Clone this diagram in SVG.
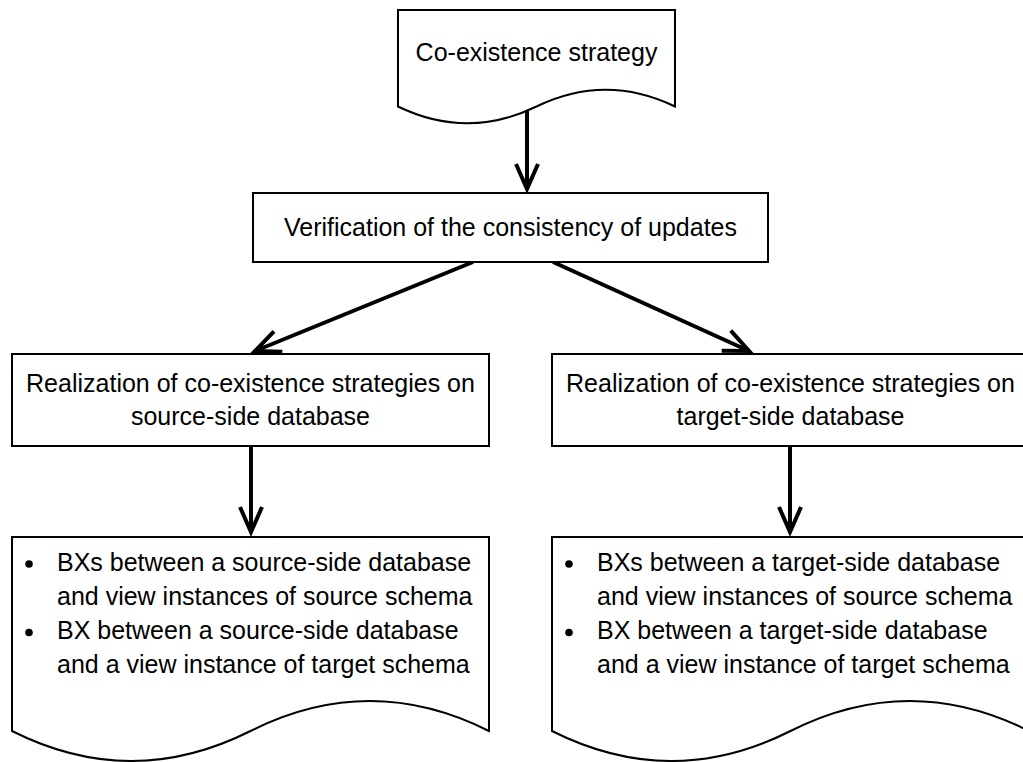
<svg xmlns="http://www.w3.org/2000/svg" width="1023" height="762" viewBox="0 0 1023 762">
  <style>
    .shape { fill: #ffffff; stroke: #000000; stroke-width: 2; }
    .label { font-family: "Liberation Sans", Arial, sans-serif; font-size: 25px; fill: #000000; }
    .mid { text-anchor: middle; }
    .edge { fill: none; stroke: #000000; stroke-width: 4; marker-end: url(#arrow); }
    .dot { fill: #000000; }
  </style>
  <defs>
    <marker id="arrow" markerUnits="userSpaceOnUse" viewBox="-30 -15 34 30" markerWidth="34" markerHeight="30" refX="0" refY="0" orient="auto" overflow="visible">
      <path d="M-25,-11 L0,0 L-25,11" fill="none" stroke="#000000" stroke-width="4" stroke-linejoin="miter"/>
    </marker>
  </defs>
  <rect width="1023" height="762" fill="#ffffff"/>

  <!-- connectors -->
  <g id="connectors">
    <path class="edge" d="M527,100 L527,189"/>
    <path class="edge" d="M473,262 L255,351"/>
    <path class="edge" d="M553,262 L749,351"/>
    <path class="edge" d="M251,446 L251,532"/>
    <path class="edge" d="M790,446 L790,532"/>
  </g>

  <!-- start document -->
  <g id="coexistence-strategy">
    <path class="shape" d="M398,10 H675 V106.5 Q605.75,73 536.5,106.5 Q467.25,140 398,106.5 Z"/>
    <text class="label mid" x="536.5" y="61">Co-existence strategy</text>
  </g>

  <g id="verification">
    <rect class="shape" x="253" y="193" width="515" height="69"/>
    <text class="label mid" x="510.5" y="236">Verification of the consistency of updates</text>
  </g>

  <g id="realization-source">
    <rect class="shape" x="12" y="354" width="477" height="92"/>
    <text class="label mid" x="250.5" y="392">Realization of co-existence strategies on</text>
    <text class="label mid" x="250.5" y="425">source-side database</text>
  </g>

  <g id="realization-target">
    <rect class="shape" x="552" y="354" width="477" height="92"/>
    <text class="label mid" x="790.5" y="392">Realization of co-existence strategies on</text>
    <text class="label mid" x="790.5" y="425">target-side database</text>
  </g>

  <!-- result documents -->
  <g id="bx-source">
    <path class="shape" d="M12,537 H489 V731 Q369.75,671 250.5,731 Q131.25,791 12,731 Z"/>
    <circle class="dot" cx="29" cy="564" r="3.8"/>
    <text class="label" x="57" y="571">BXs between a source-side database</text>
    <text class="label" x="57" y="605">and view instances of source schema</text>
    <circle class="dot" cx="29" cy="632.5" r="3.8"/>
    <text class="label" x="57" y="639">BX between a source-side database</text>
    <text class="label" x="57" y="673">and a view instance of target schema</text>
  </g>

  <g id="bx-target">
    <path class="shape" d="M552,537 H1029 V731 Q909.75,671 790.5,731 Q671.25,791 552,731 Z"/>
    <circle class="dot" cx="569" cy="564" r="3.8"/>
    <text class="label" x="597" y="571">BXs between a target-side database</text>
    <text class="label" x="597" y="605">and view instances of source schema</text>
    <circle class="dot" cx="569" cy="632.5" r="3.8"/>
    <text class="label" x="597" y="639">BX between a target-side database</text>
    <text class="label" x="597" y="673">and a view instance of target schema</text>
  </g>
</svg>
